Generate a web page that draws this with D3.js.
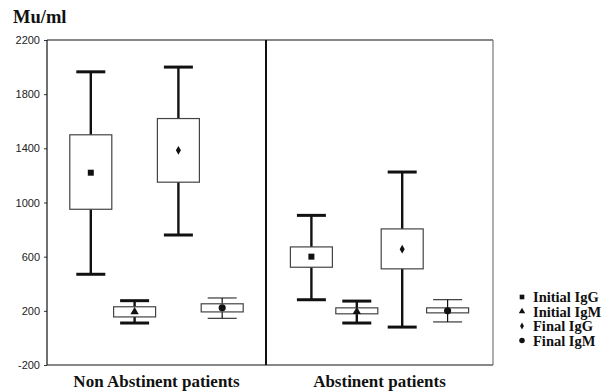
<!DOCTYPE html>
<html>
<head>
<meta charset="utf-8">
<script src="https://cdn.jsdelivr.net/npm/d3@7"></script>
<style>
    body { margin: 0; background: #fff; }
    svg { display: block; }
    .tick text { font-family: "Liberation Sans", Arial, sans-serif; font-size: 11px; fill: #222; }
    .lbl { font-family: "Liberation Serif", "Times New Roman", serif; font-weight: bold; fill: #111; }
</style>
</head>
<body>
<script>
"use strict";

// groups shown inside each panel
var groups = ["Initial IgG", "Initial IgM", "Final IgG", "Final IgM"];
var panels = ["Non Abstinent patients", "Abstinent patients"];
var yTicks = [-200, 200, 600, 1000, 1400, 1800, 2200];

// Non abstinent patients: per group [low whisker, q1, mean, q3, high whisker]
var nonLow  = [470, 110, 760, 145];
var nonQ1   = [950, 155, 1150, 192];
var nonMean = [1220, 192, 1385, 222];
var nonQ3   = [1500, 230, 1620, 252];
var nonHigh = [1965, 275, 2000, 295];

// Abstinent patients
var absLow  = [282, 110, 80, 118];
var absQ1   = [522, 178, 510, 185];
var absMean = [600, 195, 655, 200];
var absQ3   = [672, 222, 805, 222];
var absHigh = [905, 272, 1225, 282];

function init() {
    var w = 613;
    var h = 391;

    var svg = d3.select("body")
        .append("svg")
        .attr("width", w)
        .attr("height", h);

    var left = 47, top = 40, bottom = 365, mid = 266, right = 493;

    var yScale = d3.scaleLinear()
        .domain([-200, 2200])
        .range([bottom, top]);

    var panelRanges = [[left, mid], [mid, right]];
    var panelData = [
        [nonLow, nonQ1, nonMean, nonQ3, nonHigh],
        [absLow, absQ1, absMean, absQ3, absHigh]
    ];

    var symbols = [d3.symbolSquare, d3.symbolTriangle, d3.symbolDiamond, d3.symbolCircle];
    var symSizes = [36, 30, 22, 40];

    // y axis, plain hyphen for the negative label
    svg.append("g")
        .attr("transform", "translate(" + left + ",0)")
        .call(d3.axisLeft(yScale).tickValues(yTicks).tickSize(3).tickPadding(4)
            .tickFormat(function (d) { return String(d); }))
        .call(function (g) {
            g.select(".domain").remove();
            g.selectAll(".tick line").attr("stroke", "#333");
        });

    // frame
    var frame = svg.append("g").attr("fill", "none").attr("stroke", "#111");
    frame.append("line").attr("x1", left).attr("x2", right).attr("y1", top).attr("y2", top).attr("stroke-width", 1.2);
    frame.append("line").attr("x1", left).attr("x2", right).attr("y1", bottom).attr("y2", bottom).attr("stroke-width", 1.2);
    frame.append("line").attr("x1", left).attr("x2", left).attr("y1", top).attr("y2", bottom).attr("stroke-width", 1.2);
    frame.append("line").attr("x1", mid).attr("x2", mid).attr("y1", top).attr("y2", bottom).attr("stroke-width", 2);
    frame.append("line").attr("x1", right).attr("x2", right).attr("y1", top).attr("y2", bottom).attr("stroke", "#777").attr("stroke-width", 1.2);

    var boxW = 42, capW = 29;

    panelRanges.forEach(function (rng, p) {
        var xScale = d3.scalePoint()
            .domain(groups)
            .range(rng)
            .padding(1);

        var arr = panelData[p];
        var rows = groups.map(function (g, i) {
            return { g: g, i: i, lo: arr[0][i], q1: arr[1][i], mean: arr[2][i], q3: arr[3][i], hi: arr[4][i] };
        });

        var grp = svg.append("g").selectAll("g")
            .data(rows)
            .enter()
            .append("g")
            .attr("transform", function (d) { return "translate(" + xScale(d.g) + ",0)"; });

        // whiskers (final IgM drawn thin)
        function sw(d) { return d.i === 3 ? 1 : 3; }
        grp.append("line")
            .attr("x1", 0).attr("x2", 0)
            .attr("y1", function (d) { return yScale(d.hi); })
            .attr("y2", function (d) { return yScale(d.lo); })
            .attr("stroke", "#111")
            .attr("stroke-width", function (d) { return d.i === 3 ? 1.2 : 2.4; });
        grp.append("line")
            .attr("x1", -capW / 2).attr("x2", capW / 2)
            .attr("y1", function (d) { return yScale(d.hi); })
            .attr("y2", function (d) { return yScale(d.hi); })
            .attr("stroke", "#111")
            .attr("stroke-width", sw);
        grp.append("line")
            .attr("x1", -capW / 2).attr("x2", capW / 2)
            .attr("y1", function (d) { return yScale(d.lo); })
            .attr("y2", function (d) { return yScale(d.lo); })
            .attr("stroke", "#111")
            .attr("stroke-width", sw);

        // boxes
        grp.append("rect")
            .attr("x", -boxW / 2)
            .attr("width", boxW)
            .attr("y", function (d) { return yScale(d.q3); })
            .attr("height", function (d) { return yScale(d.q1) - yScale(d.q3); })
            .attr("fill", "#fff")
            .attr("stroke", "#444")
            .attr("stroke-width", 1.2);

        // mean markers
        grp.append("path")
            .attr("transform", function (d) { return "translate(0," + yScale(d.mean) + ")"; })
            .attr("d", function (d) { return d3.symbol().type(symbols[d.i]).size(symSizes[d.i])(); })
            .attr("fill", "#111");

        // panel label
        svg.append("text")
            .attr("class", "lbl")
            .attr("x", (rng[0] + rng[1]) / 2)
            .attr("y", 387)
            .attr("text-anchor", "middle")
            .attr("font-size", 17)
            .text(panels[p]);
    });

    // unit label
    svg.append("text")
        .attr("class", "lbl")
        .attr("x", 13)
        .attr("y", 23)
        .attr("font-size", 18.5)
        .text("Mu/ml");

    // legend
    var leg = svg.append("g").selectAll("g")
        .data(groups)
        .enter()
        .append("g")
        .attr("transform", function (d, i) { return "translate(522," + (297 + i * 14.5) + ")"; });
    leg.append("path")
        .attr("d", function (d, i) { return d3.symbol().type(symbols[i]).size(symSizes[i] * 0.6)(); })
        .attr("fill", "#111");
    leg.append("text")
        .attr("class", "lbl")
        .attr("x", 11)
        .attr("y", 5)
        .attr("font-size", 14.5)
        .text(function (d) { return d; });
}

window.onload = init;
</script>
</body>
</html>
